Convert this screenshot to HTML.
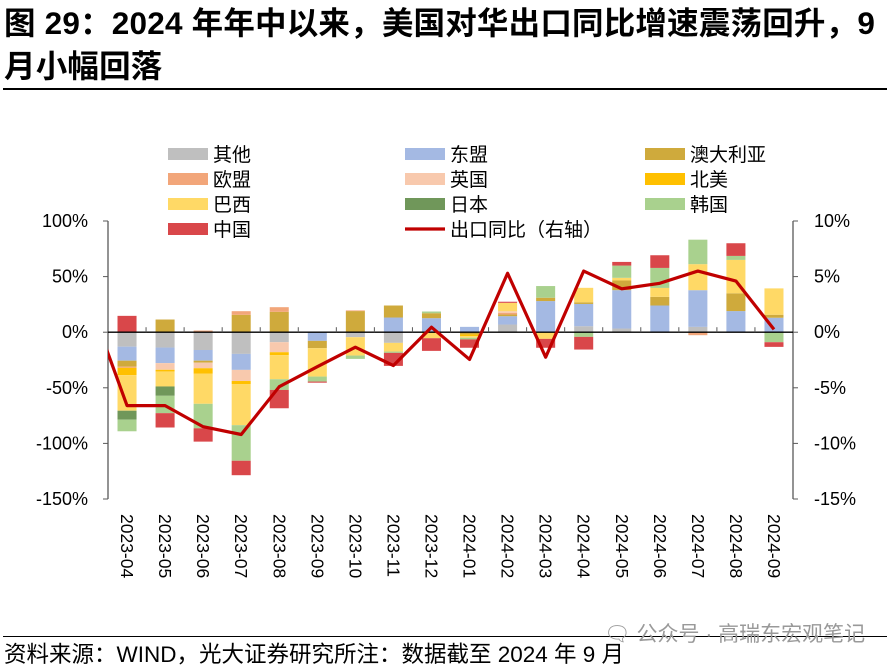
<!DOCTYPE html>
<html><head><meta charset="utf-8">
<style>
body{margin:0;background:#fff;width:892px;height:669px;overflow:hidden;font-family:"Liberation Sans","Noto Sans CJK SC",sans-serif;}
#title{position:absolute;left:4px;top:2px;font-size:31.5px;font-weight:bold;line-height:43px;color:#000;width:890px;white-space:nowrap;letter-spacing:0.2px;}
#rule{position:absolute;left:3px;top:88px;width:884px;height:2px;background:#000;}
#foot{position:absolute;left:3px;top:636px;width:884px;height:1px;background:#000;}
#src{position:absolute;left:4px;top:637px;font-size:22.5px;color:#000;white-space:nowrap;}
#wm{position:absolute;left:604px;top:618px;font-size:21px;color:#999;white-space:nowrap;}
svg{position:absolute;left:0;top:0;}
</style></head><body>
<div id="title">图 29：2024 年年中以来，美国对华出口同比增速震荡回升，9<br>月小幅回落</div>
<div id="rule"></div>
<svg id="chart" width="892" height="669"></svg>
<div id="foot"></div>
<div id="wm">🗨 公众号 · 高瑞东宏观笔记</div>
<div id="src">资料来源：WIND，光大证券研究所注：数据截至 2024 年 9 月</div>
<script>
const categories=["2023-04","2023-05","2023-06","2023-07","2023-08","2023-09","2023-10","2023-11","2023-12","2024-01","2024-02","2024-03","2024-04","2024-05","2024-06","2024-07","2024-08","2024-09"];
const seriesNames=["其他","东盟","澳大利亚","欧盟","英国","北美","巴西","日本","韩国","中国"];
const other=[-13,-13.8,-16,-19.5,-9,0,-4.5,-9.6,0,0,6.9,0,5.4,3.3,0,4.8,0,0];
const asean=[-12.6,-14,-9.6,-14.4,0,-7.8,0,13.2,12.6,4.8,7.5,28,20,34.5,24,33,19,13];
const australia=[-5.4,11.4,-1.8,15.6,18.3,-6.6,19,10.8,4.5,-2,1.5,3,1.5,8.7,7.8,0,16,2.7];
const eu=[-1,0,1.5,3.3,4.2,0,0.6,0,0,0,1.5,0,0,0,0,-2.7,0,0];
const uk=[0,-6,-5,-10,-9,0,0,0,0,0,1.5,0,0,0,0,0,0,0];
const northAmerica=[-6.6,-1.5,-5,-2.7,-2.7,0,0,0,0,-1.5,0,0,0,0,0,0,0,0];
const brazil=[-32,-13.5,-27,-37,-21.6,-25.5,-16.5,-7.8,-5.4,-1.5,7.5,-6,13,2.4,8,23.4,30,23.7];
const japan=[-8,-8.4,0,0,0,0,0,0,0,0,0,0,0,0,0,0,0,0];
const korea=[-10.5,-15.6,-22,-32,-9.6,-4.5,-3,-1.2,1.5,-1.5,0,10.5,-4.2,11,18,22,3.6,-9];
const china=[14.7,-12.9,-12,-13,-16.5,-1,0,-11.7,-11.4,-7.5,1,-8,-11.4,3.3,11.4,0,11.4,-4.2];
const exportYoY=[-6.6,-6.6,-8.5,-9.2,-4.9,-3.1,-1.35,-3.0,0.45,-2.45,5.3,-2.25,5.5,3.9,4.4,5.5,4.6,0.25];
const prevExportYoY=2.8;
const leftTicks=[100,50,0,-50,-100,-150];
const leftTickLabels=["100%","50%","0%","-50%","-100%","-150%"];
const rightTicks=[10,5,0,-5,-10,-15];
const rightTickLabels=["10%","5%","0%","-5%","-10%","-15%"];
const series=[other,asean,australia,eu,uk,northAmerica,brazil,japan,korea,china];
const colors=["#bfbfbf","#a4b9e3","#cfaa3c","#f2a67a","#f8c9ad","#ffc000","#ffd966","#70975a","#a9d18e","#d9474a"];
const ns="http://www.w3.org/2000/svg";
const svg=document.getElementById('chart');
const X0=108,X1=793,YT=221,YB=499;
const n=categories.length, step=(X1-X0)/n;
const yL=v=>YT+(100-v)*(YB-YT)/250;
const yR=v=>YT+(10-v)*(YB-YT)/25;
const xC=i=>X0+step*(i+0.5);
function mk(tag,attrs,parent){const e=document.createElementNS(ns,tag);for(const k in attrs)e.setAttribute(k,attrs[k]);(parent||svg).appendChild(e);return e;}
const F='"Liberation Sans","Noto Sans CJK SC",sans-serif';
const bw=step*0.5;
for(let i=0;i<n;i++){
  let pos=0,neg=0;
  series.forEach((s,k)=>{
    const v=s[i]; if(!v)return;
    let y0,y1;
    if(v>0){y0=pos;y1=pos+v;pos=y1;}else{y0=neg;y1=neg+v;neg=y1;}
    const r=mk('rect',{x:xC(i)-bw/2,y:Math.min(yL(y0),yL(y1)),width:bw,height:Math.abs(yL(y1)-yL(y0)),fill:colors[k]});
    
    
  });
}
mk('line',{x1:X0,y1:YT,x2:X0,y2:YB,stroke:'#595959','stroke-width':1.3});
mk('line',{x1:X1,y1:YT,x2:X1,y2:YB,stroke:'#595959','stroke-width':1.3});
mk('line',{x1:X0,y1:yL(0),x2:X1,y2:yL(0),stroke:'#000','stroke-width':1.3});
for(let i=1;i<n;i++)mk('line',{x1:X0+step*i,y1:yL(0),x2:X0+step*i,y2:yL(0)-5,stroke:'#595959'});
leftTicks.forEach((v,i)=>{
  mk('line',{x1:X0-5,y1:yL(v),x2:X0,y2:yL(v),stroke:'#595959'});
  const t=mk('text',{x:88,y:yL(v)+6,'text-anchor':'end','font-size':18,'font-family':F,fill:'#000'});t.textContent=leftTickLabels[i];
  
  
});
rightTicks.forEach((v,i)=>{
  mk('line',{x1:X1,y1:yR(v),x2:X1+5,y2:yR(v),stroke:'#595959'});
  const t=mk('text',{x:814,y:yR(v)+6,'font-size':18,'font-family':F,fill:'#000'});t.textContent=rightTickLabels[i];
  
  
});
categories.forEach((c,i)=>{
  const t=mk('text',{transform:`translate(${xC(i)-6},514) rotate(90)`,'font-size':17.5,'font-family':F,fill:'#000'});t.textContent=c;
  
  
});
mk('clipPath',{id:'cp'}).appendChild(document.createElementNS(ns,'rect'));
const cr=svg.querySelector('#cp rect');cr.setAttribute('x',X0);cr.setAttribute('y',0);cr.setAttribute('width',X1-X0);cr.setAttribute('height',669);
let d=`M${xC(-1)},${yR(prevExportYoY)}`;
exportYoY.forEach((v,i)=>{d+=` L${xC(i)},${yR(v)}`;});
const ln=mk('path',{d:d,fill:'none',stroke:'#c00000','stroke-width':3.2,'stroke-linejoin':'round','clip-path':'url(#cp)'});


const legCols=[168,405,645],legRows=[154,179,204,229];
seriesNames.forEach((nm,j)=>{
  const cx=legCols[j%3],cy=legRows[Math.floor(j/3)];
  const r=mk('rect',{x:cx,y:cy-6,width:40,height:12,fill:colors[j]});
  
  
  const t=mk('text',{x:cx+45,y:cy+7,'font-size':19,'font-family':F,fill:'#000'});t.textContent=nm;
  
  
});
mk('line',{x1:405,y1:229,x2:445,y2:229,stroke:'#c00000','stroke-width':3.2});
const lt=mk('text',{x:450,y:236,'font-size':19,'font-family':F,fill:'#000'});lt.textContent='出口同比（右轴）';


</script>
</body></html>
